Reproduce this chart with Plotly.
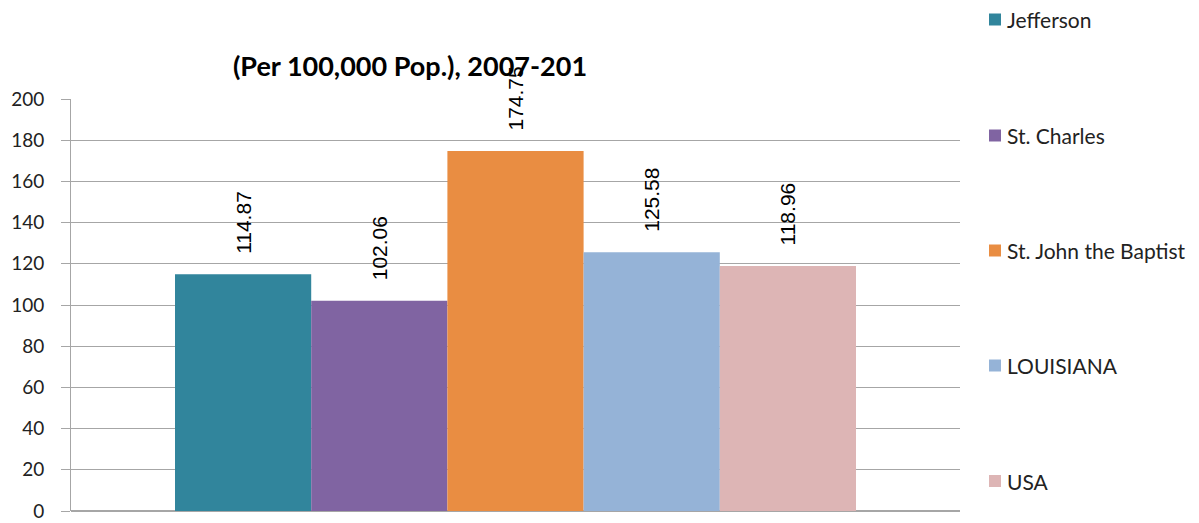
import plotly.graph_objects as go

categories = [""]
series_names = ["Jefferson", "St. Charles", "St. John the Baptist", "LOUISIANA", "USA"]
series_values = [114.87, 102.06, 174.75, 125.58, 118.96]
series_colors = ["#31859C", "#8064A2", "#E98D42", "#95B3D7", "#DDB5B5"]
y_ticks = [0, 20, 40, 60, 80, 100, 120, 140, 160, 180, 200]

# page is rendered with an 8px body margin, so size/margins compensate
W, H = 1191, 515
L, R, T, B = 63, 239, 91, 12
PW, PH = W - L - R, H - T - B

fig = go.Figure()
for i, (name, val, col) in enumerate(zip(series_names, series_values, series_colors)):
    fig.add_trace(go.Bar(
        x=categories, y=[val], name=name, marker=dict(color=col, line=dict(width=0)),
        text=[f"{val:.2f}"], texttemplate="\u00a0\u00a0\u00a0%{text}",
        textposition="outside", textangle=-90, constraintext="none",
        textfont=dict(family="Liberation Sans, Arial", size=21, color="#000000"),
        cliponaxis=False, showlegend=False,
    ))

# legend drawn as swatches + text at the reference's spacing
legend_centers = [11.5, 127.5, 242.5, 357.5, 473.0]  # fig px from top
shapes, annotations = [], []
for name, col, cy in zip(series_names, series_colors, legend_centers):
    py = (H - B - cy) / PH
    shapes.append(dict(type="rect", xref="paper", yref="paper",
                       x0=(981 - L) / PW, x1=(993 - L) / PW,
                       y0=py - 6 / PH, y1=py + 6 / PH,
                       fillcolor=col, line=dict(width=0)))
    annotations.append(dict(text=name, xref="paper", yref="paper",
                            x=(997 - L) / PW, y=py, xanchor="left", yanchor="middle",
                            showarrow=False,
                            font=dict(family="Lato", size=21, color="#222222")))

fig.update_layout(
    width=W, height=H,
    barmode="group", bargap=0.234, bargroupgap=0,
    plot_bgcolor="white", paper_bgcolor="white",
    margin=dict(l=L, r=R, t=T, b=B, autoexpand=False),
    title=dict(text="<b>(Per 100,000 Pop.), 2007-201</b>", x=402 / W, xanchor="center",
               y=1 - 59 / H, yanchor="middle",
               font=dict(family="Lato", size=27, color="#000000")),
    showlegend=False,
    shapes=shapes, annotations=annotations,
    xaxis=dict(showticklabels=False, showgrid=False, showline=False, ticks="", automargin=False),
    yaxis=dict(range=[0, 200], tickvals=y_ticks, showgrid=True, gridcolor="#A6A6A6", gridwidth=1,
               showline=True, linecolor="#A6A6A6", linewidth=1, ticks="outside", ticklen=9,
               tickcolor="#A6A6A6", zeroline=True, zerolinecolor="#A6A6A6",
               ticklabelstandoff=13, ticklabeloverflow="allow", automargin=False,
               tickfont=dict(family="Lato", size=19, color="#222222")),
)

fig.write_html("out.html")
